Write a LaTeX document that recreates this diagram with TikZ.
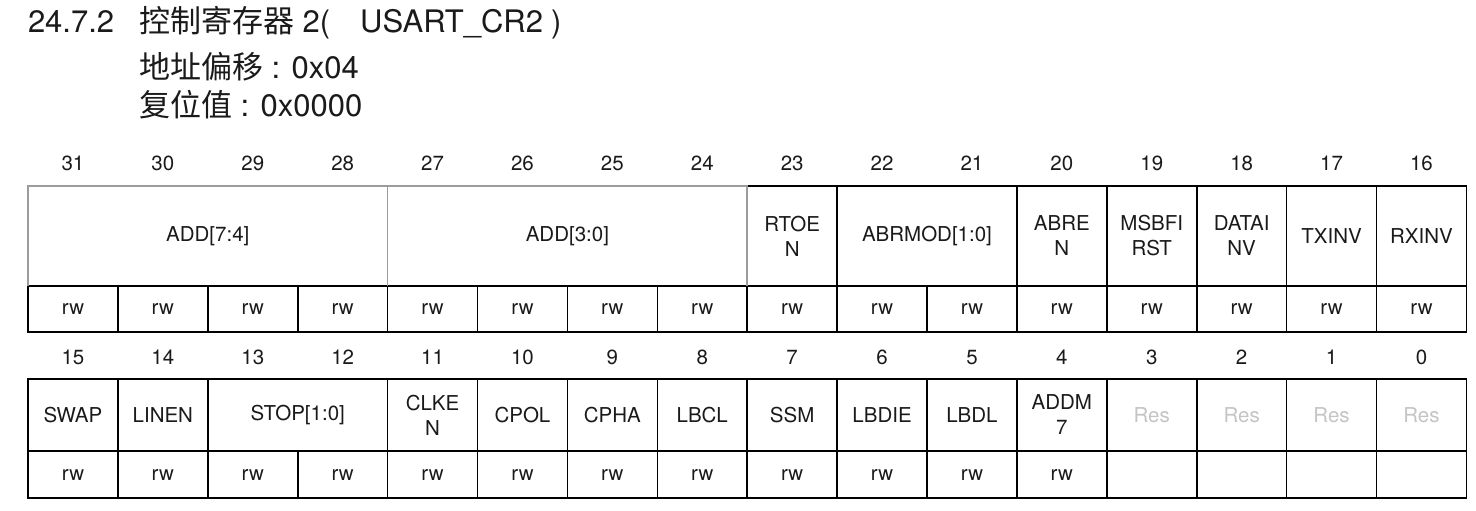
\documentclass[tikz,border=0pt]{standalone}
\usepackage{fontspec}
\setmainfont{TeX Gyre Heros}
\newfontfamily\cjk{Noto Sans CJK SC}
\definecolor{linegray}{HTML}{9C9C9C}
\definecolor{resgray}{HTML}{C4C4C4}
\definecolor{ink}{HTML}{1A1A1A}
\begin{document}
\begin{tikzpicture}[x=1pt,y=-1pt,
  heading/.style={anchor=base west, inner sep=0pt, outer sep=0pt, font=\fontsize{31}{36}\selectfont, text=ink},
  bitnum/.style={anchor=base, inner sep=0pt, font=\fontsize{20.5}{25}\selectfont, text=ink},
  cellbox/.style={draw=black, line width=1.6pt, inner sep=0pt, outer sep=0pt, align=center,
    font=\fontsize{20.5}{25}\selectfont, text=ink, anchor=north west, minimum width=89.9pt},
  topfield/.style={cellbox, minimum height=100pt},
  toprw/.style={cellbox, minimum height=46pt},
  botfield/.style={cellbox, minimum height=72pt},
  botrw/.style={cellbox, minimum height=47pt},
  graylines/.style={draw=linegray, line width=1.6pt},
  resfield/.style={botfield, text=resgray}
]
\useasboundingbox (0,0) rectangle (1476,511);

% headings
\node[heading] (secnum) at (28,33) {24.7.2};
\node[heading] (title) at (139,33) {{\cjk 控制寄存器} 2(\hspace{30pt}USART\_CR2\hspace{8pt})};
\node[heading] (addr) at (139,78) {{\cjk 地址偏移} : 0x04};
\node[heading] (reset) at (139,117) {{\cjk 复位值} : 0x0000};

% bit numbers
\foreach \k in {0,...,15} {
  \pgfmathtruncatemacro\bt{31-\k}
  \pgfmathtruncatemacro\bb{15-\k}
  \node[bitnum] (n\bt) at ({72.95+\k*89.9},170) {\bt};
  \node[bitnum] (n\bb) at ({72.95+\k*89.9},364.5) {\bb};
}

% top register half: fields
\node[topfield, draw=none, minimum width=359.6pt] (add74) at (28,186) {ADD[7:4]};
\node[topfield, draw=none, minimum width=359.6pt] (add30) at (387.6,186) {ADD[3:0]};
\node[topfield] (rtoen) at (747.2,186) {RTOE\\N};
\node[topfield, minimum width=179.8pt] (abrmod) at (837.1,186) {ABRMOD[1:0]};
\node[topfield] (abren) at (1016.9,186) {ABRE\\N};
\node[topfield] (msbfirst) at (1106.8,186) {MSBFI\\RST};
\node[topfield] (datainv) at (1196.7,186) {DATAI\\NV};
\node[topfield] (txinv) at (1286.6,186) {TXINV};
\node[topfield] (rxinv) at (1376.5,186) {RXINV};

% top register half: access
\foreach \k in {0,...,15} {
  \pgfmathtruncatemacro\bt{31-\k}
  \node[toprw] (rw\bt) at ({28+\k*89.9},286) {rw};
}

% gray outline of the ADD fields
\draw[graylines] (add74.south west) -- (add74.north west) -- (add30.north east) -- (add30.south east);
\draw[graylines] (add74.north east) -- (add74.south east);

% bottom register half: fields
\node[botfield] (swap) at (28,379) {SWAP};
\node[botfield] (linen) at (117.9,379) {LINEN};
\node[botfield, minimum width=179.8pt] (stop) at (207.8,379) {STOP[1:0]};
\node[botfield] (clken) at (387.6,379) {CLKE\\N};
\node[botfield] (cpol) at (477.5,379) {CPOL};
\node[botfield] (cpha) at (567.4,379) {CPHA};
\node[botfield] (lbcl) at (657.3,379) {LBCL};
\node[botfield] (ssm) at (747.2,379) {SSM};
\node[botfield] (lbdie) at (837.1,379) {LBDIE};
\node[botfield] (lbdl) at (927,379) {LBDL};
\node[botfield] (addm7) at (1016.9,379) {ADDM\\7};
\node[resfield] (res3) at (1106.8,379) {Res};
\node[resfield] (res2) at (1196.7,379) {Res};
\node[resfield] (res1) at (1286.6,379) {Res};
\node[resfield] (res0) at (1376.5,379) {Res};

% bottom register half: access
\foreach \k in {0,...,11} {
  \pgfmathtruncatemacro\bb{15-\k}
  \node[botrw] (rwb\bb) at ({28+\k*89.9},451) {rw};
}
\foreach \k in {12,...,15} {
  \pgfmathtruncatemacro\bb{15-\k}
  \node[botrw] (rwb\bb) at ({28+\k*89.9},451) {};
}
\end{tikzpicture}
\end{document}
